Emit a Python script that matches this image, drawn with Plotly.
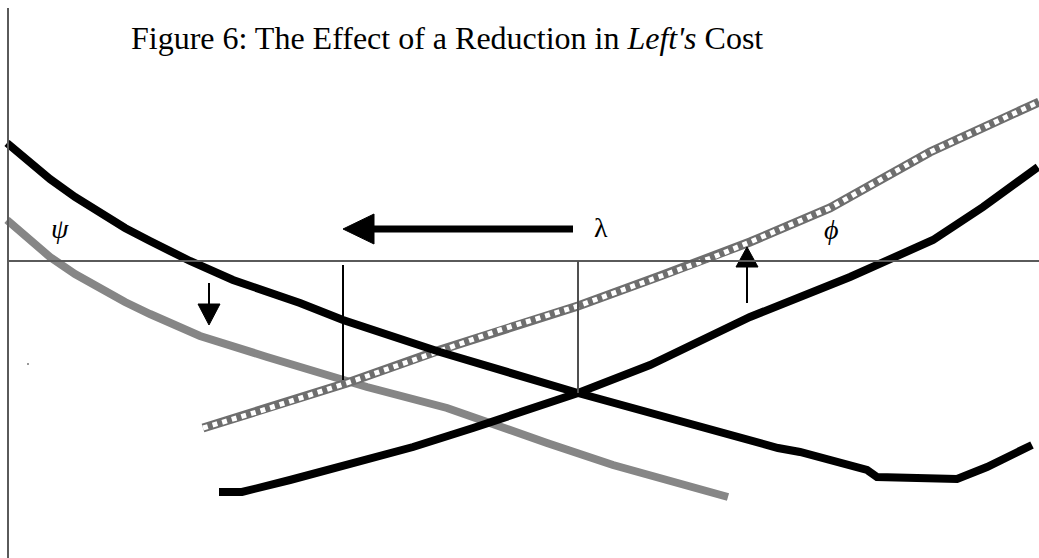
import plotly.graph_objects as go

# Curves, in diagram units (x to the right, y downward)
black_down_x = [7, 30, 50, 75, 100, 125, 150, 190, 233, 300, 343, 440, 578, 647, 778, 800, 833, 867, 877, 900, 957, 987, 1032]
black_down_y = [143, 162, 179, 197, 213, 228, 241, 261, 280, 303, 320, 352, 393, 412, 448, 452, 460, 470, 477, 477, 479, 467, 445]

black_up_x = [219, 242, 290, 347, 413, 473, 497, 578, 650, 750, 850, 887, 933, 983, 1038]
black_up_y = [492, 492, 480, 465, 447, 428, 420, 393, 365, 317, 277, 261, 240, 207, 167]

gray_down_x = [7, 30, 50, 75, 100, 125, 150, 175, 200, 267, 343, 367, 447, 480, 547, 613, 680, 728]
gray_down_y = [220, 240, 257, 274, 289, 302, 314, 326, 336, 357, 380, 387, 408, 420, 443, 465, 483, 497]

gray_up_x = [203, 260, 347, 440, 500, 578, 660, 711, 750, 830, 930, 1039]
gray_up_y = [428, 411, 383, 350, 330, 306, 276, 258, 242, 208, 152, 102]

# Equilibrium markers on the horizontal axis
old_x = 578
new_x = 343

W, H = 1039, 558
AXIS_Y = 261
AXIS_X = 8

fig = go.Figure()


def line(xs, ys, color, width, dash="solid"):
    fig.add_trace(go.Scatter(x=xs, y=ys, mode="lines",
                             line=dict(color=color, width=width, dash=dash),
                             hoverinfo="skip", showlegend=False))


# shifted (gray) curves drawn first
line(gray_down_x, gray_down_y, "#868686", 8)
line(gray_up_x, gray_up_y, "#6e6e6e", 9)
line(gray_up_x, gray_up_y, "#ffffff", 5, dash="dot")
# original (black) curves
line(black_down_x, black_down_y, "#000000", 8)
line(black_up_x, black_up_y, "#000000", 8)

# axes
fig.add_shape(type="line", x0=AXIS_X, x1=AXIS_X, y0=8, y1=H, line=dict(color="#5a5a5a", width=2))
fig.add_shape(type="line", x0=AXIS_X, x1=W, y0=AXIS_Y, y1=AXIS_Y, line=dict(color="#5a5a5a", width=2))

# vertical drop lines at the two crossings
fig.add_shape(type="line", x0=new_x, x1=new_x, y0=265, y1=380, line=dict(color="#000000", width=2))
fig.add_shape(type="line", x0=old_x, x1=old_x, y0=AXIS_Y, y1=393, line=dict(color="#505050", width=2))


def tri(xs, ys):
    fig.add_trace(go.Scatter(x=xs + [xs[0]], y=ys + [ys[0]], mode="lines", fill="toself",
                             fillcolor="#000000", line=dict(color="#000000", width=1),
                             hoverinfo="skip", showlegend=False))


# left shift arrow
fig.add_shape(type="line", x0=373, x1=573, y0=229, y1=229, line=dict(color="#000000", width=7))
tri([343, 374, 374], [229, 214, 244])
# down arrow
fig.add_shape(type="line", x0=209, x1=209, y0=283, y1=305, line=dict(color="#000000", width=2))
tri([198, 220, 209], [304, 304, 325])
# up arrow
fig.add_shape(type="line", x0=747, x1=747, y0=303, y1=266, line=dict(color="#000000", width=2))
tri([736, 758, 747], [267, 267, 247])

# stray speck
fig.add_trace(go.Scatter(x=[28], y=[364], mode="markers", marker=dict(color="#777777", size=2),
                         hoverinfo="skip", showlegend=False))

serif = "Liberation Serif, Times New Roman, serif"
fig.add_annotation(x=447, y=38, text="Figure 6: The Effect of a Reduction in <i>Left's</i> Cost",
                   showarrow=False, font=dict(family=serif, size=32, color="#000000"),
                   xanchor="center", yanchor="middle")
fig.add_annotation(x=60, y=228, text="<i>ψ</i>", showarrow=False,
                   font=dict(family=serif, size=28, color="#000000"))
fig.add_annotation(x=601, y=227, text="λ", showarrow=False,
                   font=dict(family=serif, size=28, color="#000000"))
fig.add_annotation(x=831, y=229, text="<i>ϕ</i>", showarrow=False,
                   font=dict(family=serif, size=28, color="#000000"))

fig.update_layout(
    width=W, height=H,
    margin=dict(l=0, r=0, t=0, b=0),
    paper_bgcolor="#ffffff", plot_bgcolor="#ffffff",
    xaxis=dict(range=[0, W], visible=False, fixedrange=True),
    yaxis=dict(range=[H, 0], visible=False, fixedrange=True),
    showlegend=False,
)

fig.write_html("out.html")
